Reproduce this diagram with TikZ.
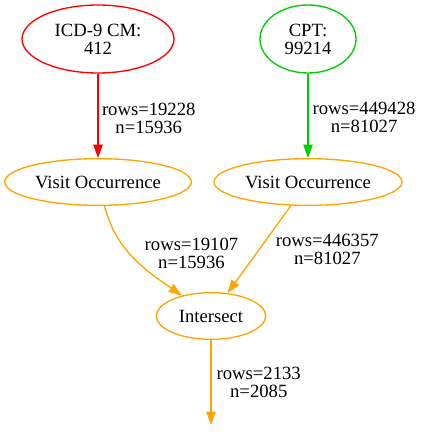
\documentclass[tikz,border=0pt]{standalone}
\usepackage{fontspec}
\setmainfont{Liberation Serif}
\usetikzlibrary{shapes, arrows.meta}

\definecolor{gvred}{RGB}{255,0,0}
\definecolor{gvgreen}{RGB}{0,205,0}
\definecolor{gvorange}{RGB}{255,165,0}

\begin{document}
\begin{tikzpicture}[x=0.75pt, y=0.75pt, font=\fontsize{14}{13.5}\selectfont,
  oval/.style={draw, ellipse, inner sep=0, align=center, line width=1pt, text=black},
  flow/.style={-{Triangle[length=10pt, width=7pt]}, line width=1pt},
  lbl/.style={align=center, inner sep=0, text=black}]
\useasboundingbox (0,0) rectangle (425,432);
\node[oval, draw=gvred, minimum width=114pt, minimum height=51pt] (icd) at (98,393) {ICD-9 CM:\\412};
\node[oval, draw=gvgreen, minimum width=72pt, minimum height=51pt] (cpt) at (308,393) {CPT:\\99214};
\node[oval, draw=gvorange, minimum width=140pt, minimum height=35pt] (vl) at (98,250) {Visit Occurrence};
\node[oval, draw=gvorange, minimum width=141pt, minimum height=35pt] (vr) at (308,250) {Visit Occurrence};
\node[oval, draw=gvorange, minimum width=82pt, minimum height=35pt] (isect) at (211,116) {Intersect};
\coordinate (out) at (211,7);
\draw[flow, gvred] (icd) -- (vl) node[lbl, midway, right=2.5pt, yshift=-2pt] {rows=19228\\n=15936};
\draw[flow, gvgreen] (cpt) -- (vr) node[lbl, midway, right=3pt, yshift=-1pt] {rows=449428\\n=81027};
\draw[flow, gvorange] (vl) to[out=-75, in=145] node[lbl, midway, right=8pt, yshift=3pt] {rows=19107\\n=15936} (isect);
\draw[flow, gvorange] (vr) -- (isect) node[lbl, midway, right=12pt] {rows=446357\\n=81027};
\draw[flow, gvorange] (isect) -- (out) node[lbl, midway, right=3.75pt] {rows=2133\\n=2085};
\end{tikzpicture}
\end{document}
